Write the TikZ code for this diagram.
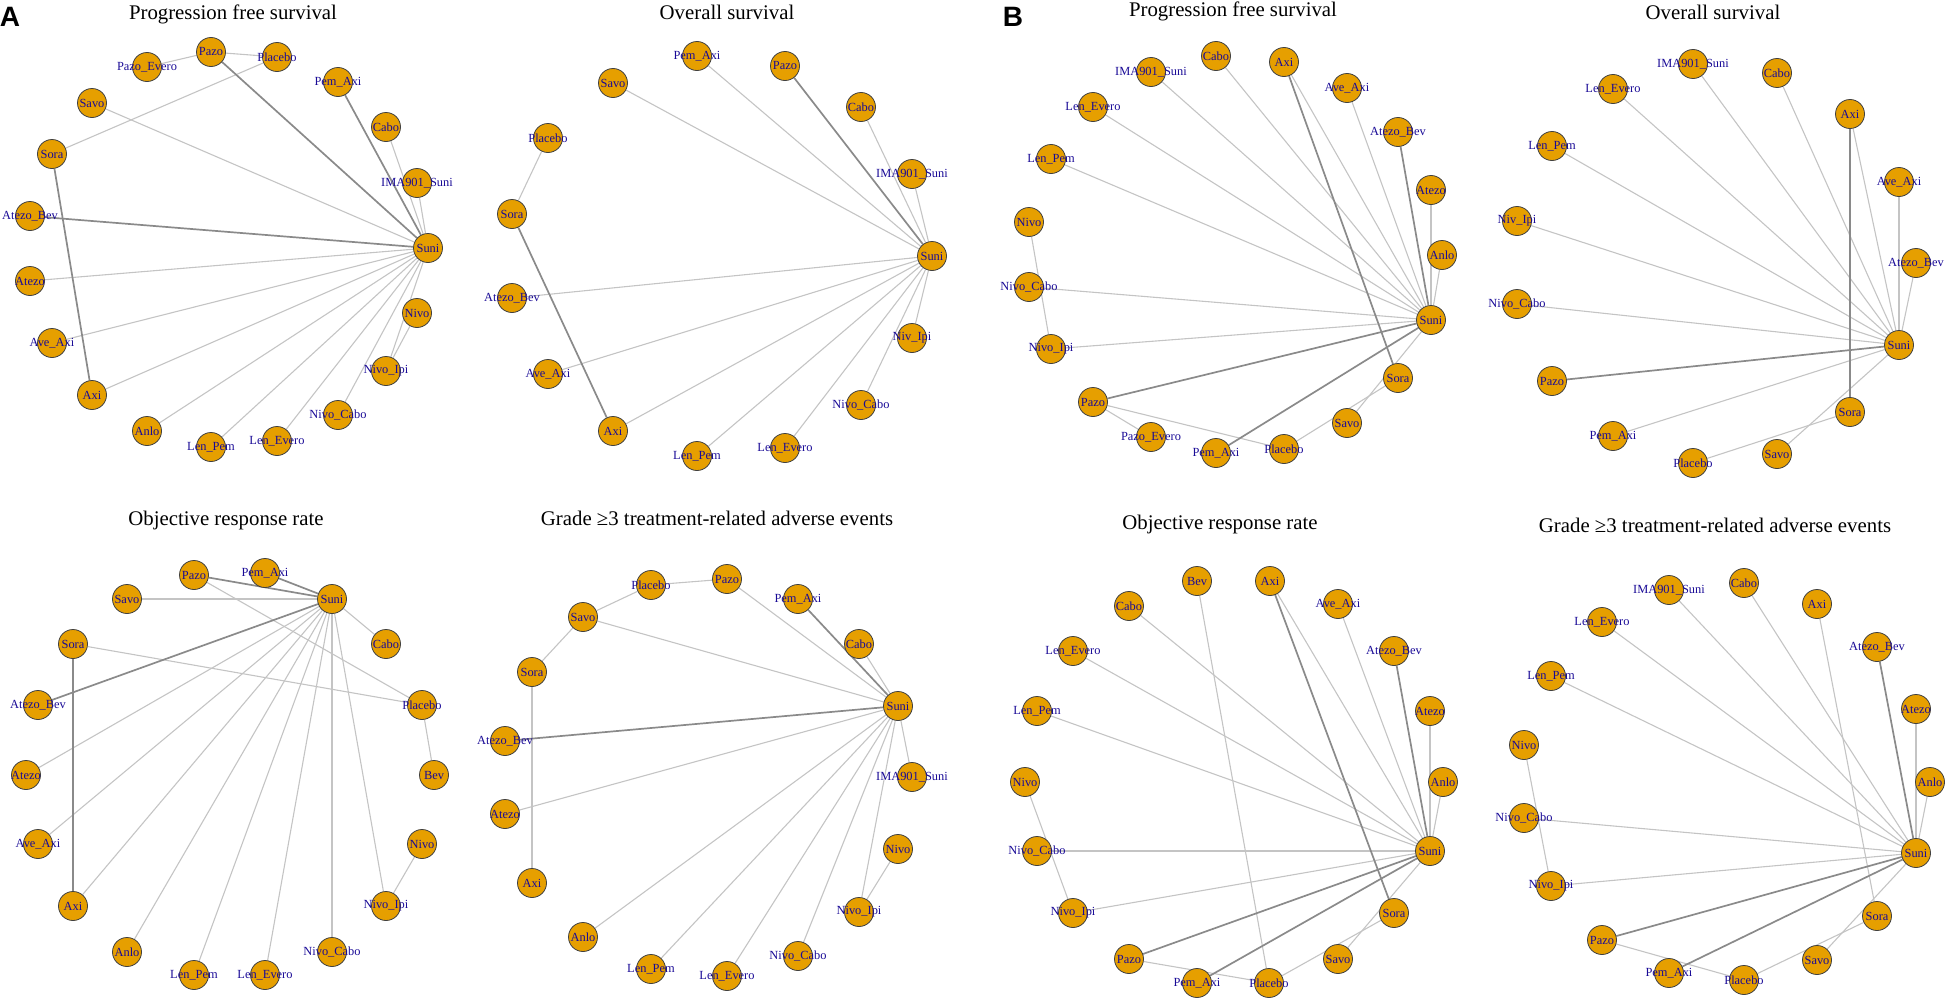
\documentclass[tikz,border=0pt]{standalone}
\usepackage{fontspec}
\setmainfont{Liberation Serif}
\newfontfamily\panelfont{Liberation Sans}
\usepackage{tikz}
\usetikzlibrary{backgrounds}

\definecolor{drugfill}{HTML}{E69F00}
\definecolor{drugtext}{RGB}{25,10,150}
\definecolor{lnkgray}{HTML}{C4C4C4}
\definecolor{lnkdark}{HTML}{8A8A8A}

\tikzset{
    drug/.style={circle, fill=drugfill, draw=black!75, line width=0.4pt, minimum size=14.5pt, inner sep=0pt},
    drugname/.style={text=drugtext, font=\fontsize{6.2}{7}\selectfont, inner sep=0pt},
    lnk/.style={lnkgray, line width=0.55pt},
    lnkb/.style={lnkdark, line width=0.85pt},
    ttl/.style={font=\fontsize{10.4}{12}\selectfont, inner sep=0pt},
    tag/.style={font=\panelfont\bfseries\fontsize{14}{16}\selectfont, inner sep=0pt}
}

% nodes of one network: prefix, list name/x/y
\newcommand{\drugnodes}[2]{%
    \foreach \n/\x/\y in {#2}
        \node[drug, label={[drugname]center:\expandafter\detokenize\expandafter{\n}}] (#1-\n) at (\x,\y) {};}
% links of one network: prefix, style, list a/b
\newcommand{\druglinks}[3]{%
    \begin{scope}[on background layer]
        \foreach \a/\b in {#3} \draw[#2] (#1-\a) -- (#1-\b);
    \end{scope}}

\begin{document}
\begin{tikzpicture}[x=0.5pt, y=-0.5pt]
    \useasboundingbox (0,0) rectangle (1949,1001);
    \node[tag] (tagA) at (10,17) {A};
    \node[tag] (tagB) at (1013,17) {B};

    % A: progression free survival
    \begin{scope}
        \node[ttl] (t1) at (233,14) {Progression free survival};
        \drugnodes{p1}{Suni/428/248, IMA901_Suni/417/183, Cabo/386/127, Pem_Axi/338/82, Placebo/277/57,
            Pazo/211/52, Pazo_Evero/147/67, Savo/92/103, Sora/52/154, Atezo_Bev/30/216, Atezo/30/281,
            Ave_Axi/52/343, Axi/92/395, Anlo/147/431, Len_Pem/211/447, Len_Evero/277/441,
            Nivo_Cabo/338/415, Nivo_Ipi/386/371, Nivo/417/313}
        \druglinks{p1}{lnk}{Pazo_Evero/Pazo, Pazo/Placebo, Placebo/Sora, Cabo/Suni, IMA901_Suni/Suni,
            Savo/Suni, Atezo/Suni, Ave_Axi/Suni, Axi/Suni, Anlo/Suni, Len_Pem/Suni, Len_Evero/Suni,
            Nivo_Cabo/Suni, Nivo_Ipi/Suni, Nivo/Nivo_Ipi}
        \druglinks{p1}{lnkb}{Pazo/Suni, Pem_Axi/Suni, Sora/Axi, Atezo_Bev/Suni}
    \end{scope}

    % A: overall survival
    \begin{scope}[shift={(480,0)}]
        \node[ttl] (t2) at (247,12) {Overall survival};
        \drugnodes{p2}{Suni/452/256, IMA901_Suni/432/174, Cabo/381/107, Pazo/305/66, Pem_Axi/217/56,
            Savo/133/83, Placebo/68/138, Sora/32/214, Atezo_Bev/32/298, Ave_Axi/68/374, Axi/133/431,
            Len_Pem/217/456, Len_Evero/305/448, Nivo_Cabo/381/405, Niv_Ipi/432/338}
        \druglinks{p2}{lnk}{Placebo/Sora, Savo/Suni, Pem_Axi/Suni, Cabo/Suni, IMA901_Suni/Suni,
            Atezo_Bev/Suni, Ave_Axi/Suni, Axi/Suni, Len_Pem/Suni, Len_Evero/Suni, Nivo_Cabo/Suni,
            Niv_Ipi/Suni}
        \druglinks{p2}{lnkb}{Pazo/Suni, Sora/Axi}
    \end{scope}

    % B: progression free survival
    \begin{scope}[shift={(975,0)}]
        \node[ttl] (t3) at (258,11) {Progression free survival};
        \drugnodes{p3}{Suni/456/320, Anlo/467/255, Atezo/456/190, Atezo_Bev/423/132, Ave_Axi/372/88,
            Axi/309/62, Cabo/241/56, IMA901_Suni/176/72, Len_Evero/118/107, Len_Pem/76/159,
            Nivo/54/222, Nivo_Cabo/54/287, Nivo_Ipi/76/349, Pazo/118/402, Pazo_Evero/176/437,
            Pem_Axi/241/453, Placebo/309/449, Savo/372/423, Sora/423/378}
        \druglinks{p3}{lnk}{IMA901_Suni/Suni, Cabo/Suni, Axi/Suni, Ave_Axi/Suni, Atezo/Suni, Anlo/Suni,
            Len_Evero/Suni, Len_Pem/Suni, Nivo/Nivo_Ipi, Nivo_Cabo/Suni, Nivo_Ipi/Suni,
            Pazo/Pazo_Evero, Pazo/Placebo, Placebo/Sora, Savo/Suni}
        \druglinks{p3}{lnkb}{Axi/Sora, Atezo_Bev/Suni, Pazo/Suni, Pem_Axi/Suni}
    \end{scope}

    % B: overall survival
    \begin{scope}[shift={(1460,0)}]
        \node[ttl] (t4) at (253,12) {Overall survival};
        \drugnodes{p4}{Suni/439/345, Atezo_Bev/456/263, Ave_Axi/439/182, Axi/390/114, Cabo/317/73,
            IMA901_Suni/233/64, Len_Evero/153/89, Len_Pem/92/146, Niv_Ipi/57/221, Nivo_Cabo/57/304,
            Pazo/92/381, Pem_Axi/153/436, Placebo/233/463, Savo/317/454, Sora/390/412}
        \druglinks{p4}{lnk}{IMA901_Suni/Suni, Cabo/Suni, Len_Evero/Suni, Len_Pem/Suni, Niv_Ipi/Suni,
            Nivo_Cabo/Suni, Axi/Suni, Ave_Axi/Suni, Atezo_Bev/Suni, Pem_Axi/Suni, Savo/Suni,
            Placebo/Sora}
        \druglinks{p4}{lnkb}{Axi/Sora, Pazo/Suni}
    \end{scope}

    % A: objective response rate
    \begin{scope}[shift={(0,500)}]
        \node[ttl] (t5) at (226,20) {Objective response rate};
        \drugnodes{p5}{Suni/332/99, Pem_Axi/265/73, Pazo/194/75, Savo/127/99, Sora/73/144,
            Atezo_Bev/38/205, Atezo/26/275, Ave_Axi/38/344, Axi/73/406, Anlo/127/452, Len_Pem/194/475,
            Len_Evero/265/475, Nivo_Cabo/332/452, Nivo_Ipi/386/406, Nivo/422/344, Bev/434/275,
            Placebo/422/205, Cabo/386/144}
        \druglinks{p5}{lnk}{Savo/Suni, Pazo/Placebo, Sora/Placebo, Suni/Cabo, Suni/Atezo, Suni/Ave_Axi,
            Suni/Axi, Suni/Anlo, Suni/Len_Pem, Suni/Len_Evero, Suni/Nivo_Cabo, Suni/Nivo_Ipi,
            Nivo/Nivo_Ipi, Placebo/Bev}
        \druglinks{p5}{lnkb}{Pazo/Suni, Pem_Axi/Suni, Sora/Axi, Atezo_Bev/Suni}
    \end{scope}

    % A: grade >=3 adverse events
    \begin{scope}[shift={(480,500)}]
        \node[ttl] (t6) at (237,18) {Grade ≥3 treatment-related adverse events};
        \drugnodes{p6}{Suni/418/206, Cabo/379/144, Pem_Axi/318/99, Pazo/247/79, Placebo/171/85,
            Savo/103/117, Sora/52/172, Atezo_Bev/25/241, Atezo/25/314, Axi/52/383, Anlo/103/437,
            Len_Pem/171/469, Len_Evero/247/476, Nivo_Cabo/318/456, Nivo_Ipi/379/412, Nivo/418/349,
            IMA901_Suni/432/277}
        \druglinks{p6}{lnk}{Placebo/Pazo, Placebo/Savo, Savo/Sora, Savo/Suni, Pazo/Suni, Cabo/Suni,
            Sora/Axi, Atezo/Suni, IMA901_Suni/Suni, Nivo_Ipi/Suni, Nivo/Nivo_Ipi, Anlo/Suni,
            Len_Pem/Suni, Len_Evero/Suni, Nivo_Cabo/Suni}
        \druglinks{p6}{lnkb}{Pem_Axi/Suni, Atezo_Bev/Suni}
    \end{scope}

    % B: objective response rate
    \begin{scope}[shift={(975,500)}]
        \node[ttl] (t7) at (245,24) {Objective response rate};
        \drugnodes{p7}{Suni/455/351, Anlo/468/282, Atezo/455/211, Atezo_Bev/419/151, Ave_Axi/363/104,
            Axi/295/81, Bev/222/81, Cabo/154/106, Len_Evero/98/151, Len_Pem/62/211, Nivo/50/282,
            Nivo_Cabo/62/351, Nivo_Ipi/98/413, Pazo/154/459, Pem_Axi/222/483, Placebo/294/483,
            Savo/363/459, Sora/419/413}
        \druglinks{p7}{lnk}{Bev/Placebo, Axi/Suni, Cabo/Suni, Ave_Axi/Suni, Len_Evero/Suni, Len_Pem/Suni,
            Atezo/Suni, Anlo/Suni, Nivo/Nivo_Ipi, Nivo_Cabo/Suni, Nivo_Ipi/Suni, Pazo/Placebo,
            Placebo/Sora, Savo/Suni}
        \druglinks{p7}{lnkb}{Axi/Sora, Atezo_Bev/Suni, Pazo/Suni, Pem_Axi/Suni}
    \end{scope}

    % B: grade >=3 adverse events
    \begin{scope}[shift={(1460,500)}]
        \node[ttl] (t8) at (255,25) {Grade ≥3 treatment-related adverse events};
        \drugnodes{p8}{Suni/456/353, Anlo/470/282, Atezo/456/209, Atezo_Bev/417/147, Axi/357/104,
            Cabo/284/83, IMA901_Suni/209/90, Len_Evero/142/122, Len_Pem/91/176, Nivo/64/245,
            Nivo_Cabo/64/318, Nivo_Ipi/91/386, Pazo/142/440, Pem_Axi/209/473, Placebo/284/480,
            Savo/357/460, Sora/417/416}
        \druglinks{p8}{lnk}{IMA901_Suni/Suni, Cabo/Suni, Axi/Sora, Len_Evero/Suni, Len_Pem/Suni,
            Atezo/Suni, Anlo/Suni, Nivo/Nivo_Ipi, Nivo_Cabo/Suni, Nivo_Ipi/Suni, Pazo/Placebo,
            Placebo/Sora, Savo/Suni}
        \druglinks{p8}{lnkb}{Atezo_Bev/Suni, Pazo/Suni, Pem_Axi/Suni}
    \end{scope}
\end{tikzpicture}
\end{document}
